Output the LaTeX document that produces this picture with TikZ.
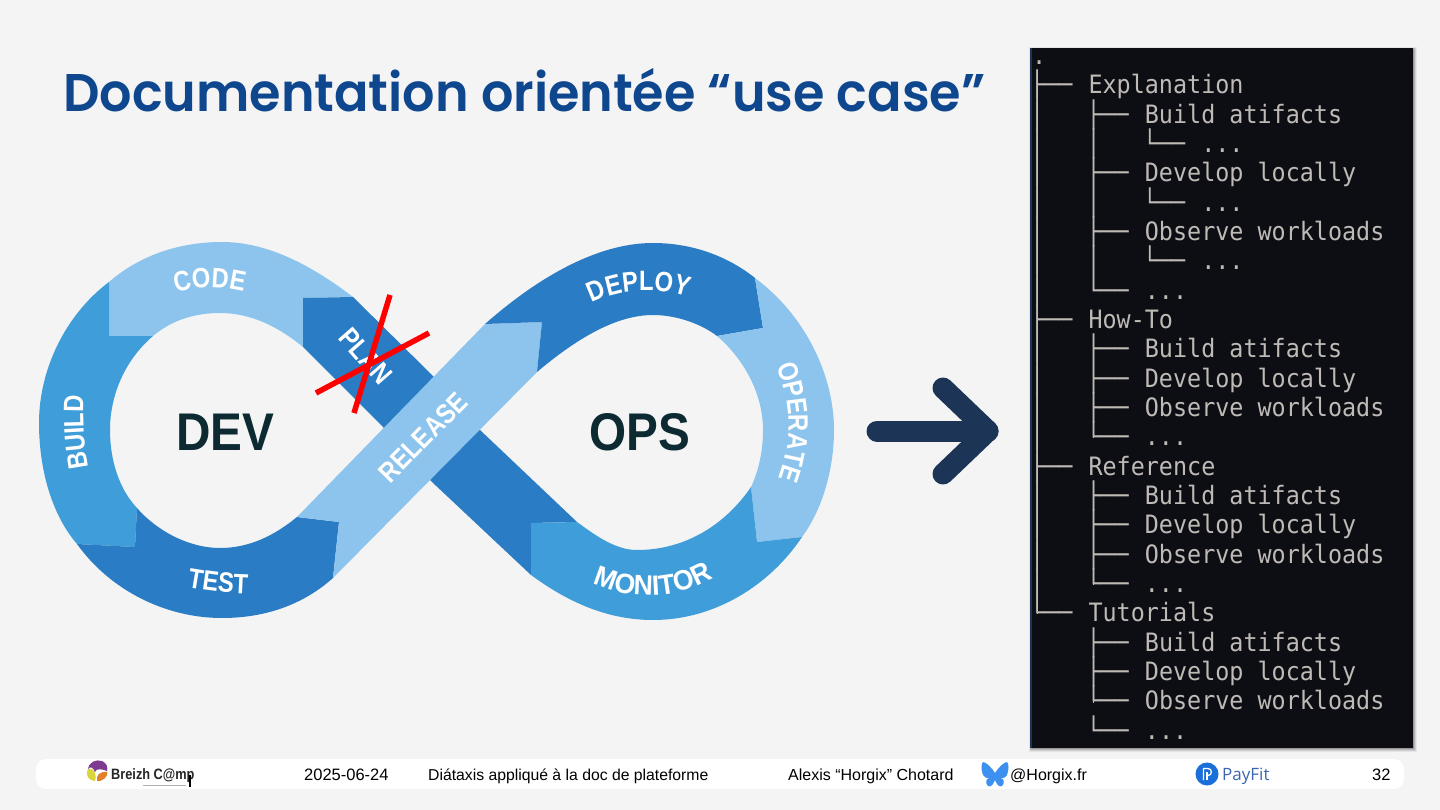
\documentclass[tikz,border=0pt]{standalone}
\usepackage{fontspec}
\usetikzlibrary{decorations.text}
\setmainfont{Liberation Sans}
\newfontfamily\titlefont[FakeStretch=0.96]{Poppins SemiBold}
\newfontfamily\lobefont[FakeStretch=0.85]{Liberation Sans}
\newfontfamily\lobewide[FakeStretch=0.95]{Liberation Sans}
\newfontfamily\bigfont[FakeStretch=0.9]{Liberation Sans}
\newfontfamily\monofont[FakeStretch=0.925]{DejaVu Sans Mono}
\newfontfamily\payfont{Open Sans}
\definecolor{bgc}{HTML}{F4F4F4}
\definecolor{lightb}{HTML}{8CC4ED}
\definecolor{midb}{HTML}{3F9DD9}
\definecolor{darkb}{HTML}{2A7CC4}
\definecolor{inkc}{HTML}{0D2A33}
\definecolor{titlec}{HTML}{0F478F}
\definecolor{termc}{HTML}{0D0E14}
\definecolor{termt}{HTML}{BEBAB6}
\definecolor{navyc}{HTML}{1C3557}
\definecolor{campv}{HTML}{7E3A8E}
\definecolor{campy}{HTML}{D8D63C}
\definecolor{campo}{HTML}{E08028}
\definecolor{skyc}{HTML}{3D8FF0}
\definecolor{payc}{HTML}{1B6FD8}
\definecolor{payt}{HTML}{3B66B0}
\newcommand\lab{\fontsize{28}{28}\selectfont\lobefont\bfseries\color{white}}
\newcommand\labw{\fontsize{28}{28}\selectfont\lobewide\bfseries\color{white}}
\newcommand\tdots{...}
\newcommand\wgap{\hspace{2pt}}
\tikzset{
  lbl/.style={decorate,decoration={text along path,text align=center,text={|\lab|#1}}},
  lblw/.style={decorate,decoration={text along path,text align=center,text={|\labw|#1}}},
  bigword/.style={font=\fontsize{53}{53}\selectfont\bigfont\bfseries,text=inkc,inner sep=0pt},
  foot/.style={font=\fontsize{15.75}{16}\selectfont,text=black,inner sep=0pt,anchor=base west},
  footb/.style={font=\fontsize{16}{16}\selectfont,text=black,inner sep=0pt,anchor=base west},
  footnum/.style={font=\fontsize{16.5}{17}\selectfont,text=black,inner sep=0pt,anchor=base west},
  termline/.style={font=\fontsize{25.3}{26}\selectfont\monofont,text=termt,inner sep=0pt,anchor=base west},
  treeline/.style={draw=termt,line width=1.4pt},
  crossline/.style={draw=red,line width=5.5pt},
  arrowline/.style={draw=navyc,line width=21pt,line cap=round,line join=round}
}
\begin{document}
\begin{tikzpicture}[x=1pt,y=-1pt]
\useasboundingbox (0,0) rectangle (1440,810);
\fill[bgc] (0,0) rectangle (1440,810);

% title
\node[font=\fontsize{53}{53}\selectfont\titlefont,text=titlec,inner sep=0pt,anchor=base west] (title) at (63,112) {Documentation orientée “use case”};

% infinity: CODE
\fill[lightb] (109,282) .. controls (140,255) and (180,242) .. (222,242)
  .. controls (270,242) and (315,268) .. (353,297) -- (303,298) -- (303,347)
  .. controls (280,328) and (252,313) .. (220,313)
  .. controls (195,313) and (172,320) .. (153,336) -- (109,336) -- cycle;
% BUILD
\fill[midb] (109,282) -- (109,336) -- (153,336)
  .. controls (125,360) and (110,395) .. (110,430)
  .. controls (110,462) and (120,490) .. (137,508) -- (135,547) -- (77,544)
  .. controls (52,515) and (39,470) .. (39,423)
  .. controls (39,370) and (65,315) .. (109,282) -- cycle;
% TEST
\fill[darkb] (77,544) -- (135,547) -- (137,508)
  .. controls (158,532) and (190,548) .. (220,548)
  .. controls (250,548) and (275,535) .. (297,517) -- (339,522) -- (333,578)
  .. controls (305,603) and (268,618) .. (222,618)
  .. controls (165,618) and (110,590) .. (77,544) -- cycle;
% PLAN band, running under RELEASE
\fill[darkb] (303,298) -- (353,297) -- (432,375) -- (480,430) -- (577,522) -- (531,523) -- (531,575)
  -- (432,482) -- (383,427) -- (303,347) -- cycle;
% RELEASE
\fill[lightb] (297,517) -- (339,522) -- (333,578) -- (537,372) -- (542,322) -- (485,324) -- cycle;
% DEPLOY
\fill[darkb] (485,324) .. controls (535,280) and (595,243) .. (653,243)
  .. controls (695,243) and (730,258) .. (755,278) -- (763,328) -- (717,336)
  .. controls (700,323) and (675,315) .. (653,315)
  .. controls (615,315) and (575,340) .. (537,372) -- (542,322) -- cycle;
% OPERATE
\fill[lightb] (755,278) .. controls (805,315) and (834,375) .. (834,430)
  .. controls (834,470) and (822,510) .. (802,537) -- (757,542) -- (751,487)
  .. controls (759,470) and (763,450) .. (763,430)
  .. controls (763,395) and (745,360) .. (717,336) -- (763,328) -- cycle;
% MONITOR
\fill[midb] (802,537) .. controls (770,585) and (715,620) .. (653,620)
  .. controls (605,620) and (565,600) .. (531,575) -- (531,523) -- (577,522)
  .. controls (595,535) and (615,550) .. (637,550)
  .. controls (685,550) and (725,525) .. (751,487) -- (757,542) -- cycle;

% lobe labels
\path[lbl={CODE}] (165,297) .. controls (195,285) and (225,285) .. (255,295);
\path[lbl={BUILD}] (90,475) .. controls (84,450) and (82,420) .. (84,388);
\path[lbl={TEST}] (180,586) .. controls (205,591) and (230,594) .. (255,594);
\path[lbl={PLAN}] (331,331) -- (386,394);
\path[lbl={RELEASE}] (382,493) -- (478,395);
\path[lbl={DEPLOY}] (585,307) .. controls (615,288) and (660,285) .. (695,300);
\path[lbl={OPERATE}] (772,358) .. controls (792,395) and (795,445) .. (775,487);
\path[lblw={MONITOR}] (582,578) .. controls (625,602) and (680,602) .. (723,572);

\node[bigword] (dev) at (225.5,432) {DEV};
\node[bigword] (ops) at (639.5,432) {OPS};

% red cross
\draw[crossline] (390,295) -- (354,413);
\draw[crossline] (429,333) -- (316,393);

% arrow
\draw[arrowline] (877,431) -- (988,431);
\draw[arrowline] (943,388) -- (988,431) -- (943,474);

% terminal shadow and panel
\foreach \s/\o in {4/0.06,3/0.09,2/0.12,1/0.16}{
  \fill[black,opacity=\o] (1031-\s*0.4,49-\s*0.4) rectangle (1413+\s,748+\s);
}
\fill[termc] (1030,48) rectangle (1413,748);
\fill[navyc] (1030,48) rectangle (1032,748);

\node[termline] (t0) at (1032,65) {.};
\foreach \n/\t in {
 1/├──~\wgap Explanation,
 2/│~~~├──~\wgap Build~atifacts,
 3/│~~~│~~~└──~\wgap\tdots,
 4/│~~~├──~\wgap Develop~locally,
 5/│~~~│~~~└──~\wgap\tdots,
 6/│~~~├──~\wgap Observe~workloads,
 7/│~~~│~~~└──~\wgap\tdots,
 8/│~~~└──~\wgap\tdots,
 9/├──~\wgap How-To,
 10/│~~~├──~\wgap Build~atifacts,
 11/│~~~├──~\wgap Develop~locally,
 12/│~~~├──~\wgap Observe~workloads,
 13/│~~~└──~\wgap\tdots,
 14/├──~\wgap Reference,
 15/│~~~├──~\wgap Build~atifacts,
 16/│~~~├──~\wgap Develop~locally,
 17/│~~~├──~\wgap Observe~workloads,
 18/│~~~└──~\wgap\tdots,
 19/└──~\wgap Tutorials,
 20/~~~~├──~\wgap Build~atifacts,
 21/~~~~├──~\wgap Develop~locally,
 22/~~~~└──~\wgap Observe~workloads,
 23/~~~~└──~\wgap\tdots}{
  \pgfmathsetmacro\yy{94+29.33*(\n-1)}
  \node[termline] (t\n) at (1030,\yy) {\t};
}
% tree verticals, continuous over the glyph stems
\draw[treeline] (1037.2,70) -- (1037.2,613.5);
\draw[treeline] (1093.4,100) -- (1093.4,290.5);
\draw[treeline] (1093.4,335) -- (1093.4,437.5);
\draw[treeline] (1093.4,482) -- (1093.4,584.5);
\draw[treeline] (1093.4,630) -- (1093.4,702.5);

% footer
\fill[white,rounded corners=10pt] (36,759) rectangle (1404,789);
% BreizhCamp logo
\fill[campv] (88,769) .. controls (89,762) and (96,759) .. (102,761) .. controls (107,763) and (108,768) .. (107,771) .. controls (102,769) and (96,768) .. (95,772) .. controls (93,767) and (90,766) .. (88,769) -- cycle;
\fill[campy] (87.5,770) .. controls (90,767) and (93,769) .. (95,773) .. controls (96,776) and (96,779) .. (95,781) .. controls (89,781) and (85,775) .. (87.5,770) -- cycle;
\fill[campo] (107.5,772) .. controls (108,777) and (102,782) .. (97,781) .. controls (96,776) and (99,771) .. (107.5,772) -- cycle;
\node[font=\fontsize{15}{16}\selectfont\lobefont\bfseries,text=black!85,inner sep=0pt,anchor=base west] (camp) at (111,779) {Breizh C@mp};
\draw[black,line width=1.2pt] (190,775) -- (190,787);
\draw[gray!60,line width=1pt] (143,785) -- (186,785);
\node[footnum] (date) at (304,780) {2025-06-24};
\node[foot] (talk) at (428,780) {Diátaxis appliqué à la doc de plateforme};
\node[footb] (author) at (788,780) {Alexis “Horgix” Chotard};
% Bluesky butterfly
\fill[skyc] (995,773) .. controls (992,768) and (986,762) .. (983,762) .. controls (981,764) and (981,770) .. (983,775) .. controls (984,778) and (987,778) .. (989,778) .. controls (986,779) and (985,783) .. (988,786) .. controls (991,788) and (994,783) .. (995,780) .. controls (996,783) and (999,788) .. (1002,786) .. controls (1005,783) and (1004,779) .. (1001,778) .. controls (1003,778) and (1006,778) .. (1007,775) .. controls (1009,770) and (1009,764) .. (1007,762) .. controls (1004,762) and (998,768) .. (995,773) -- cycle;
\node[footb] (handle) at (1010,780) {@Horgix.fr};
% PayFit logo
\fill[payc] (1207,774) circle (11.5);
\draw[white,line width=1.3pt] (1203.5,780) -- (1203.5,768.5) -- (1208,768.5) .. controls (1212.5,768.5) and (1212.5,775.5) .. (1208,775.5) -- (1206.5,775.5);
\draw[white,line width=1.3pt] (1207,780) -- (1207,771.5);
\node[font=\fontsize{17}{18}\selectfont\payfont,text=payt,inner sep=0pt,anchor=base west] (payfit) at (1222,780) {PayFit};
\node[footnum] (page) at (1372,780) {32};
\end{tikzpicture}
\end{document}
